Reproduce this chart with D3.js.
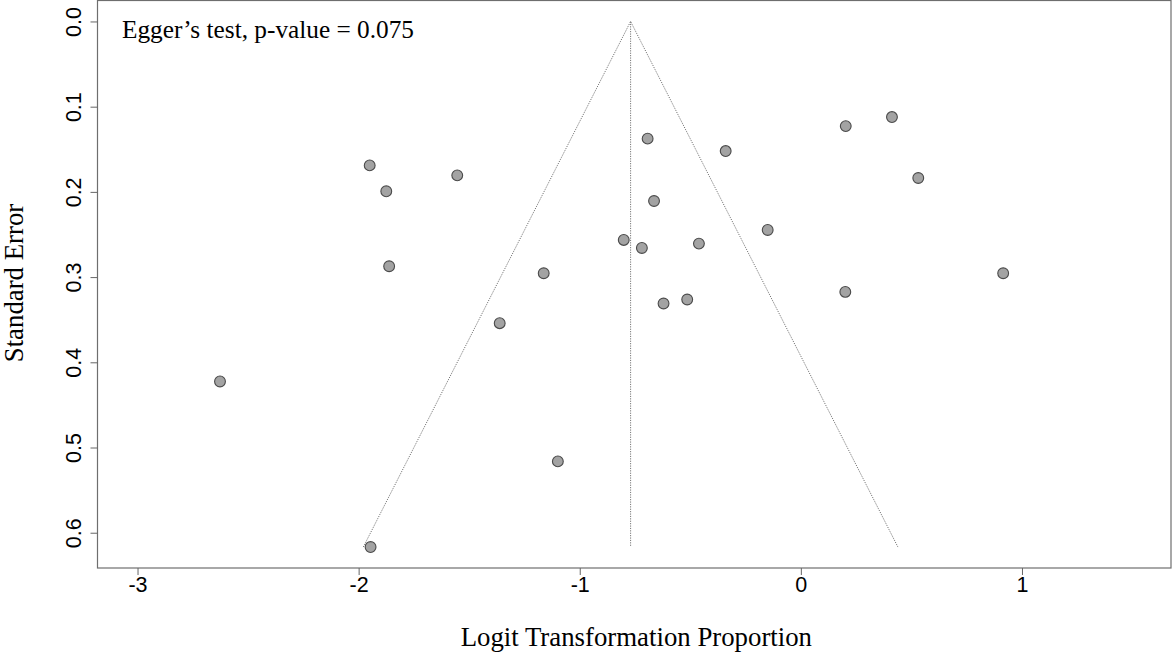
<!DOCTYPE html>
<html>
<head>
<meta charset="utf-8">
<script src="https://cdn.jsdelivr.net/npm/d3@7"></script>
<style>
  html, body { margin: 0; padding: 0; background: #fff; }
  svg { display: block; }
</style>
</head>
<body>
<svg id="chart" width="1172" height="655"></svg>
<script>
// ---- data ----
const effects = [-1.950, -1.875, -1.554, -1.862, -1.163, -1.362, -2.627,
                 -0.693, -0.340, -0.664, -0.150, -0.801, -0.719, -0.461,
                 -0.621, -0.514, 0.203, 0.412, 0.531, 0.915, 0.201,
                 -1.099, -1.946];
const stdErrors = [0.1689, 0.1993, 0.1806, 0.2873, 0.2955, 0.3541, 0.4225,
                   0.1375, 0.1521, 0.2107, 0.2447, 0.2564, 0.2658, 0.2607,
                   0.3310, 0.3263, 0.1228, 0.1122, 0.1837, 0.2955, 0.3174,
                   0.5163, 0.6168];
const pooledEstimate = -0.770;
const funnelMaxSE = 0.6168;
const xTicks = [-3, -2, -1, 0, 1];
const xTickLabels = ["-3", "-2", "-1", "0", "1"];
const yTicks = [0.0, 0.1, 0.2, 0.3, 0.4, 0.5, 0.6];
const yTickLabels = ["0.0", "0.1", "0.2", "0.3", "0.4", "0.5", "0.6"];
const annotation = "Egger\u2019s test, p-value = 0.075";
const xTitle = "Logit Transformation Proportion";
const yTitle = "Standard Error";

// ---- layout ----
const svg = d3.select("#chart");
const plot = { left: 97.5, right: 1171, top: 0.5, bottom: 568 };

const x = d3.scaleLinear().domain([-3.181, 1.674]).range([plot.left, plot.right]);
const y = d3.scaleLinear().domain([-0.0246, 0.6414]).range([plot.top, plot.bottom]);

// funnel
const z = 1.96;
const funnel = [
  [pooledEstimate - z * funnelMaxSE, funnelMaxSE],
  [pooledEstimate, 0],
  [pooledEstimate + z * funnelMaxSE, funnelMaxSE]
];
const line = d3.line().x(d => x(d[0])).y(d => y(d[1]));
svg.append("path")
  .attr("d", line(funnel))
  .attr("fill", "none")
  .attr("stroke", "#777")
  .attr("stroke-width", 1)
  .attr("stroke-dasharray", "1.2,1.2");
svg.append("path")
  .attr("d", line([[pooledEstimate, 0], [pooledEstimate, funnelMaxSE]]))
  .attr("fill", "none")
  .attr("stroke", "#777")
  .attr("stroke-width", 1)
  .attr("stroke-dasharray", "1.2,1.2");

// points
svg.append("g").selectAll("circle")
  .data(effects.map((e, i) => ({ e, se: stdErrors[i] })))
  .join("circle")
  .attr("cx", d => x(d.e))
  .attr("cy", d => y(d.se))
  .attr("r", 5.4)
  .attr("fill", "#a3a3a3")
  .attr("stroke", "#4a4a4a")
  .attr("stroke-width", 1.1);

// box
svg.append("rect")
  .attr("x", plot.left)
  .attr("y", plot.top)
  .attr("width", plot.right - plot.left)
  .attr("height", plot.bottom - plot.top)
  .attr("fill", "none")
  .attr("stroke", "#6e6e6e")
  .attr("stroke-width", 1.2);

// x axis
const gx = svg.append("g")
  .attr("transform", `translate(0,${plot.bottom})`)
  .call(d3.axisBottom(x).tickValues(xTicks).tickSize(7).tickSizeOuter(0).tickPadding(2)
        .tickFormat((d, i) => xTickLabels[i]));
gx.select(".domain").remove();
gx.selectAll(".tick line").attr("stroke", "#666");
gx.selectAll(".tick text")
  .attr("font-family", "'Liberation Sans', Arial, sans-serif")
  .attr("font-size", 21.5)
  .attr("fill", "#000");

// y axis
const gy = svg.append("g")
  .attr("transform", `translate(${plot.left},0)`)
  .call(d3.axisLeft(y).tickValues(yTicks).tickSize(7).tickSizeOuter(0)
        .tickFormat((d, i) => yTickLabels[i]));
gy.select(".domain").remove();
gy.selectAll(".tick line").attr("stroke", "#666");
gy.selectAll(".tick text")
  .attr("x", 0)
  .attr("dy", 0)
  .attr("transform", "translate(-16.5,0) rotate(-90)")
  .attr("text-anchor", "middle")
  .attr("font-family", "'Liberation Sans', Arial, sans-serif")
  .attr("font-size", 21.5)
  .attr("fill", "#000");

// annotation
svg.append("text")
  .attr("x", 122)
  .attr("y", 38)
  .attr("font-family", "'Liberation Serif', 'Times New Roman', serif")
  .attr("font-size", 25.3)
  .attr("fill", "#000")
  .text(annotation);

// axis titles
svg.append("text")
  .attr("x", (460 + 812.7) / 2)
  .attr("y", 646)
  .attr("text-anchor", "middle")
  .attr("font-family", "'Liberation Serif', 'Times New Roman', serif")
  .attr("font-size", 26.8)
  .attr("fill", "#000")
  .text(xTitle);

svg.append("text")
  .attr("transform", "translate(22.5,283) rotate(-90)")
  .attr("text-anchor", "middle")
  .attr("font-family", "'Liberation Serif', 'Times New Roman', serif")
  .attr("font-size", 26.8)
  .attr("fill", "#000")
  .text(yTitle);
</script>
</body>
</html>
